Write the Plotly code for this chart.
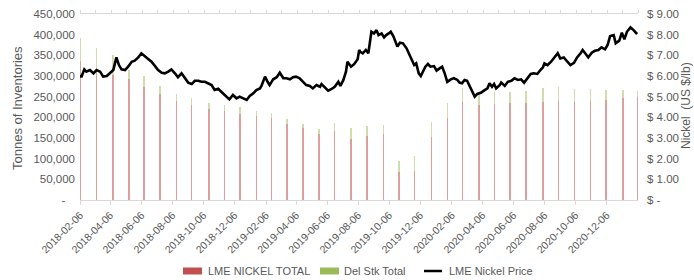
import plotly.graph_objects as go

# ---------------- data ----------------
bar_dates = ["2018-02-06", "2018-03-10", "2018-04-11", "2018-05-13", "2018-06-11", "2018-07-13",
             "2018-08-14", "2018-09-13", "2018-10-17", "2018-11-16", "2018-12-17", "2019-01-18",
             "2019-02-17", "2019-03-19", "2019-04-20", "2019-05-21", "2019-06-20", "2019-07-23",
             "2019-08-23", "2019-09-25", "2019-10-25", "2019-11-25", "2019-12-28", "2020-01-29",
             "2020-02-27", "2020-03-30", "2020-04-30", "2020-05-30", "2020-07-01", "2020-08-03",
             "2020-09-03", "2020-10-04", "2020-11-04", "2020-12-05", "2021-01-07", "2021-02-05"]
lme_nickel_total = [336000, 318000, 302000, 292000, 274000, 257000, 240000, 231000, 221000, 215000,
                    208000, 203000, 199000, 185000, 175000, 160000, 167000, 147000, 156000, 160000,
                    68000, 71000, 153000, 198000, 238000, 231000, 232000, 235000, 235000, 238000,
                    240000, 238000, 240000, 243000, 247000, 250000]
del_stk_total = [55000, 50000, 48000, 22000, 26000, 19000, 16000, 16000, 14000, 15000,
                 17000, 13000, 11000, 11000, 10000, 11000, 20000, 26000, 24000, 22000,
                 26000, 35000, 36000, 37000, 34000, 23000, 30000, 27000, 29000, 32000,
                 34000, 30000, 28000, 23000, 19000, 14000]

price_dates = [
    "2018-02-06", "2018-02-08", "2018-02-14", "2018-02-18", "2018-02-25", "2018-03-04", "2018-03-10",
    "2018-03-17", "2018-03-23", "2018-03-30", "2018-04-05", "2018-04-12", "2018-04-18", "2018-04-23",
    "2018-04-28", "2018-05-05", "2018-05-11", "2018-05-18", "2018-05-24", "2018-05-31", "2018-06-06",
    "2018-06-13", "2018-06-20", "2018-06-26", "2018-07-03", "2018-07-09", "2018-07-16", "2018-07-22",
    "2018-07-29", "2018-08-04", "2018-08-11", "2018-08-17", "2018-08-24", "2018-08-31", "2018-09-06",
    "2018-09-13", "2018-09-19", "2018-09-26", "2018-10-02", "2018-10-09", "2018-10-15", "2018-10-22",
    "2018-10-28", "2018-11-04", "2018-11-10", "2018-11-20", "2018-11-26", "2018-12-03", "2018-12-10",
    "2018-12-16", "2018-12-23", "2018-12-30", "2019-01-05", "2019-01-12", "2019-01-18", "2019-01-25",
    "2019-01-28", "2019-02-04", "2019-02-09", "2019-02-13", "2019-02-20", "2019-02-27", "2019-03-05",
    "2019-03-12", "2019-03-18", "2019-03-25", "2019-03-31", "2019-04-06", "2019-04-13", "2019-04-20",
    "2019-04-26", "2019-05-03", "2019-05-09", "2019-05-16", "2019-05-23", "2019-05-26", "2019-06-01",
    "2019-06-08", "2019-06-14", "2019-06-21", "2019-06-28", "2019-07-02", "2019-07-08", "2019-07-13",
    "2019-07-16", "2019-07-23", "2019-07-29", "2019-08-05", "2019-08-08", "2019-08-10", "2019-08-15",
    "2019-08-21", "2019-08-26", "2019-09-01", "2019-09-06", "2019-09-11", "2019-09-15", "2019-09-21",
    "2019-09-26", "2019-09-30", "2019-10-05", "2019-10-09", "2019-10-14", "2019-10-18", "2019-10-22",
    "2019-10-27", "2019-11-02", "2019-11-09", "2019-11-13", "2019-11-19", "2019-11-24", "2019-11-28",
    "2019-12-03", "2019-12-07", "2019-12-11", "2019-12-16", "2019-12-21", "2019-12-26", "2020-01-02",
    "2020-01-07", "2020-01-13", "2020-01-18", "2020-01-23", "2020-01-28", "2020-02-04", "2020-02-10",
    "2020-02-17", "2020-02-21", "2020-02-26", "2020-03-02", "2020-03-07", "2020-03-12", "2020-03-17",
    "2020-03-22", "2020-03-27", "2020-04-03", "2020-04-09", "2020-04-16", "2020-04-20", "2020-04-25",
    "2020-04-29", "2020-05-03", "2020-05-10", "2020-05-13", "2020-05-20", "2020-05-26", "2020-06-02",
    "2020-06-08", "2020-06-15", "2020-06-21", "2020-06-27", "2020-07-03", "2020-07-10", "2020-07-16",
    "2020-07-23", "2020-07-29", "2020-08-03", "2020-08-06", "2020-08-12", "2020-08-19", "2020-08-26",
    "2020-09-01", "2020-09-06", "2020-09-13", "2020-09-20", "2020-09-26", "2020-10-03", "2020-10-09",
    "2020-10-16", "2020-10-20", "2020-10-25", "2020-10-31", "2020-11-07", "2020-11-13", "2020-11-20",
    "2020-11-26", "2020-12-03", "2020-12-08", "2020-12-13", "2020-12-20", "2020-12-24", "2020-12-31",
    "2021-01-05", "2021-01-10", "2021-01-15", "2021-01-22", "2021-01-28", "2021-02-04"]
nickel_price = [
    6.05, 5.94, 6.32, 6.21, 6.29, 6.13, 6.29,
    6.21, 5.97, 6.00, 6.13, 6.29, 6.90, 6.53,
    6.32, 6.29, 6.45, 6.69, 6.74, 6.90, 7.10,
    6.93, 6.81, 6.69, 6.45, 6.29, 6.16, 6.13,
    6.21, 6.32, 6.13, 5.94, 6.13, 5.89, 5.68,
    5.61, 5.77, 5.77, 5.72, 5.72, 5.65, 5.56,
    5.32, 5.38, 5.24, 5.03, 4.87, 5.08, 4.92,
    5.00, 4.92, 4.84, 5.03, 5.16, 5.32, 5.40,
    5.52, 5.97, 5.72, 5.56, 5.84, 5.94, 6.16,
    5.89, 5.89, 5.84, 5.94, 5.97, 5.89, 5.72,
    5.56, 5.52, 5.40, 5.56, 5.48, 5.61, 5.48,
    5.29, 5.36, 5.48, 5.72, 5.52, 5.81, 6.21,
    6.69, 6.45, 6.57, 6.81, 7.26, 7.17, 7.10,
    7.26, 7.10, 8.14, 8.06, 8.22, 7.98, 8.06,
    7.87, 7.98, 8.06, 8.14, 7.93, 7.66, 7.42,
    7.61, 7.58, 7.34, 7.10, 6.77, 6.53, 6.61,
    6.13, 6.00, 6.21, 6.45, 6.58, 6.45, 6.48,
    6.26, 6.37, 6.45, 6.13, 5.72, 5.84, 5.89,
    5.81, 5.68, 5.65, 5.81, 5.77, 5.52, 5.32,
    5.00, 5.13, 5.19, 5.29, 5.40, 5.65, 5.48,
    5.61, 5.40, 5.56, 5.68, 5.52, 5.72, 5.77,
    5.89, 5.81, 5.84, 5.68, 5.89, 6.10, 6.13,
    6.10, 6.29, 6.42, 6.61, 6.53, 6.69, 6.90,
    7.10, 6.85, 6.90, 6.69, 6.53, 6.64, 6.90,
    7.10, 7.26, 7.10, 6.90, 7.13, 7.22, 7.26,
    7.39, 7.29, 7.50, 7.93, 7.98, 7.58, 7.71,
    8.10, 7.77, 8.14, 8.35, 8.22, 8.03]

x_tick_labels = ["2018-02-06", "2018-04-06", "2018-06-06", "2018-08-06", "2018-10-06", "2018-12-06",
                 "2019-02-06", "2019-04-06", "2019-06-06", "2019-08-06", "2019-10-06", "2019-12-06",
                 "2020-02-06", "2020-04-06", "2020-06-06", "2020-08-06", "2020-10-06", "2020-12-06"]
left_tick_vals = [0, 50000, 100000, 150000, 200000, 250000, 300000, 350000, 400000, 450000]
left_tick_text = ["-\u00a0\u00a0\u00a0", "50,000", "100,000", "150,000", "200,000", "250,000",
                  "300,000", "350,000", "400,000", "450,000"]
right_tick_vals = [0, 1, 2, 3, 4, 5, 6, 7, 8, 9]
right_tick_text = ["$ -", "$ 1.00", "$ 2.00", "$ 3.00", "$ 4.00", "$ 5.00", "$ 6.00", "$ 7.00",
                   "$ 8.00", "$ 9.00"]

# ---------------- style ----------------
W, H = 694, 280
L, R, T, B = 80, 638, 14, 200
RED = "#c0504d"
GREEN = "#9bbb59"
GREY = "#595959"
AXIS = "#d9d9d9"
FONT = "Liberation Sans"

def px(xp):
    return (xp - L) / (R - L)

def py(yp):
    return (B - yp) / (B - T)

DAY = 86400000
fig = go.Figure()
fig.add_trace(go.Bar(x=bar_dates, y=lme_nickel_total, name="LME NICKEL TOTAL",
                     marker=dict(color="rgba(192,80,77,0.55)", line=dict(width=0)),
                     width=2.8 * DAY, showlegend=False))
fig.add_trace(go.Bar(x=bar_dates, y=del_stk_total, name="Del Stk Total",
                     marker=dict(color="rgba(155,187,89,0.5)", line=dict(width=0)),
                     width=2.8 * DAY, showlegend=False))
fig.add_trace(go.Scatter(x=price_dates, y=nickel_price, name="LME Nickel Price", yaxis="y2",
                         mode="lines", line=dict(color="black", width=2.6), showlegend=False))
# empty trace so the secondary (top) category axis is drawn
fig.add_trace(go.Scatter(x=[], y=[], xaxis="x2", yaxis="y", showlegend=False, hoverinfo="skip"))

fig.update_layout(
    template="none",
    width=W, height=H,
    margin=dict(l=L, r=W - R, t=T, b=H - B, autoexpand=False),
    paper_bgcolor="white", plot_bgcolor="white",
    barmode="stack", bargap=0, showlegend=False,
    font=dict(family=FONT, size=11, color=GREY),
    xaxis=dict(type="date", range=["2018-02-05 12:00", "2021-02-05 18:00"], automargin=False,
               tickvals=x_tick_labels, ticktext=x_tick_labels, tickangle=-45,
               tickfont=dict(size=10.5, color=GREY),
               showgrid=False, zeroline=False, showline=True, linecolor=AXIS, linewidth=1,
               ticks="outside", ticklen=4, tickcolor=AXIS),
    xaxis2=dict(overlaying="x", side="top", range=[0, 36], tickvals=list(range(37)), automargin=False,
                showticklabels=False, showgrid=False, zeroline=False, showline=True,
                linecolor=AXIS, linewidth=1, ticks="outside", ticklen=3, tickcolor=AXIS),
    yaxis=dict(range=[0, 450000], tickvals=left_tick_vals, ticktext=left_tick_text, automargin=False,
               tickfont=dict(size=11.5, color=GREY), showgrid=False, zeroline=False,
               showline=False, ticks="", ticklabelstandoff=4),
    yaxis2=dict(overlaying="y", side="right", range=[0, 9], tickvals=right_tick_vals, automargin=False,
                ticktext=right_tick_text, tickfont=dict(size=11.5, color=GREY),
                showgrid=False, zeroline=False, showline=False, ticks="", ticklabelstandoff=8),
)

# axis titles
fig.add_annotation(text="Tonnes of Inventories", xref="paper", yref="paper", x=px(17), y=py(108),
                   textangle=-90, showarrow=False, font=dict(size=13, color=GREY),
                   xanchor="center", yanchor="middle")
fig.add_annotation(text="Nickel  (US $/lb)", xref="paper", yref="paper", x=px(686), y=py(106),
                   textangle=-90, showarrow=False, font=dict(size=12, color=GREY),
                   xanchor="center", yanchor="middle")

# legend (drawn manually to mimic wide swatches)
LY = 271
fig.add_shape(type="rect", xref="paper", yref="paper", x0=px(183), x1=px(202), y0=py(LY + 3.5),
              y1=py(LY - 3.5), fillcolor=RED, line=dict(width=0))
fig.add_annotation(text="LME NICKEL TOTAL", xref="paper", yref="paper", x=px(206), y=py(LY),
                   xanchor="left", yanchor="middle", showarrow=False, font=dict(size=11, color=GREY))
fig.add_shape(type="rect", xref="paper", yref="paper", x0=px(320), x1=px(339), y0=py(LY + 3.5),
              y1=py(LY - 3.5), fillcolor=GREEN, line=dict(width=0))
fig.add_annotation(text="Del Stk Total", xref="paper", yref="paper", x=px(342), y=py(LY),
                   xanchor="left", yanchor="middle", showarrow=False, font=dict(size=11, color=GREY))
fig.add_shape(type="line", xref="paper", yref="paper", x0=px(424), x1=px(442), y0=py(LY),
              y1=py(LY), line=dict(color="black", width=2.5))
fig.add_annotation(text="LME Nickel Price", xref="paper", yref="paper", x=px(447), y=py(LY),
                   xanchor="left", yanchor="middle", showarrow=False, font=dict(size=11, color=GREY))

# remove the browser's default page margin so the figure sits at the window's top-left corner
fig.write_html("out.html", config={"displayModeBar": False},
               post_script="document.body.style.margin='0';")
